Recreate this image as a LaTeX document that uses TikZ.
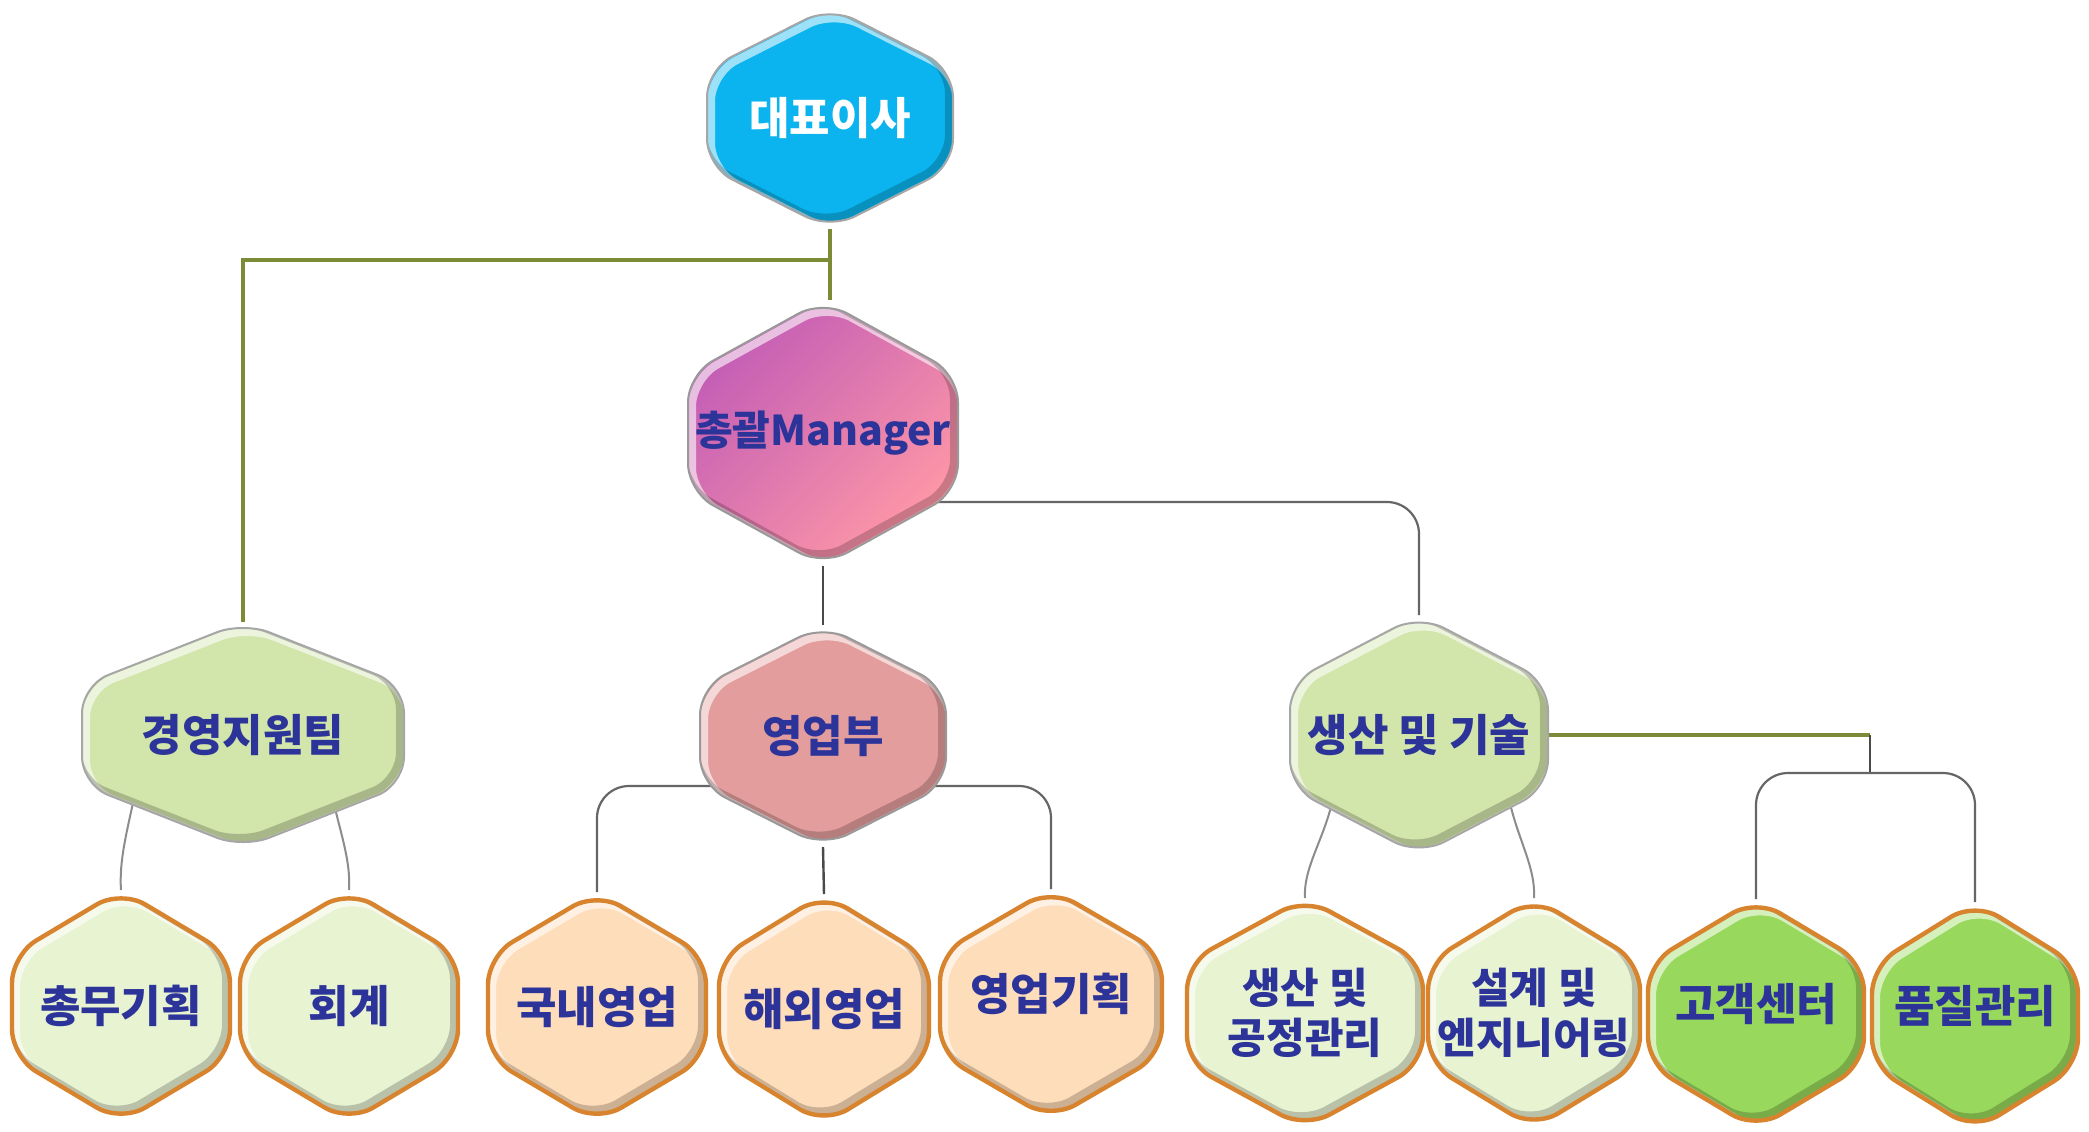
\documentclass[tikz,border=0pt]{standalone}
\usepackage{fontspec}
\setmainfont{Noto Sans CJK KR}
\usetikzlibrary{calc}
\pgfdeclarelayer{bg}
\pgfdeclarelayer{shapes}
\pgfsetlayers{bg,shapes,main}
\definecolor{txtblue}{HTML}{2D3499}
\definecolor{ceoC}{HTML}{0BB4EE}
\definecolor{mgrA}{HTML}{C25CB6}
\definecolor{mgrB}{HTML}{FF98A6}
\definecolor{lgC}{HTML}{D2E5AA}
\definecolor{salesC}{HTML}{E49D9D}
\definecolor{creamC}{HTML}{E8F3D2}
\definecolor{peachC}{HTML}{FEDDBA}
\definecolor{greenC}{HTML}{98D85C}
\definecolor{orangeB}{HTML}{D8842E}
\definecolor{oliveL}{HTML}{7C8C36}
\definecolor{darkL}{HTML}{4A4A4A}
\definecolor{grayL}{HTML}{8C8C8C}

\newcommand\hexpath[3]{($(#1.north)+(#2,#3)$) -- ($(#1.north east)!0.28!(#1.south east)+(#2,#3)$) -- ($(#1.south east)!0.28!(#1.north east)+(#2,#3)$) -- ($(#1.south)+(#2,#3)$) -- ($(#1.south west)!0.28!(#1.north west)+(#2,#3)$) -- ($(#1.north west)!0.28!(#1.south west)+(#2,#3)$) -- cycle}

\newcommand\hexnode[7]{%
  \node[hexlabel, #1 text, minimum width=#5*0.5pt, minimum height=#6*0.5pt] (#2) at (#3,#4) {#7};
  \begin{pgfonlayer}{shapes}
    \path[#1 fill, hexround] \hexpath{#2}{0}{0};
    \begin{scope}
      \clip[hexround] \hexpath{#2}{0}{0};
      \draw[hexround, white, opacity=.6, line width=4pt] \hexpath{#2}{4}{4};
      \draw[hexround, black, opacity=.2, line width=4pt] \hexpath{#2}{-4}{-4};
    \end{scope}
    \draw[#1 line, hexround] \hexpath{#2}{0}{0};
  \end{pgfonlayer}}
\newcommand\liftlabel[1]{\raisebox{5pt}[\height][\depth]{#1}}

\tikzset{
  hexround/.style={rounded corners=14pt},
  hexlabel/.style={inner sep=0pt, outer sep=0pt, align=center,
    font=\fontsize{22}{25}\selectfont\bfseries, text=txtblue},
  ceo text/.style={text=white},
  ceo fill/.style={fill=ceoC},
  ceo line/.style={draw=black!35, line width=1pt},
  mgr text/.style={font=\fontsize{20.5}{25}\selectfont\bfseries},
  mgr fill/.style={top color=mgrA, bottom color=mgrB, shading angle=45},
  mgr line/.style={draw=black!40, line width=1pt},
  lg text/.style={},
  lg fill/.style={fill=lgC},
  lg line/.style={draw=black!35, line width=1pt},
  sales text/.style={},
  sales fill/.style={fill=salesC},
  sales line/.style={draw=black!40, line width=1pt},
  cream text/.style={},
  cream fill/.style={fill=creamC},
  cream line/.style={draw=orangeB, line width=2.2pt},
  creamtwo text/.style={font=\fontsize{21}{25}\selectfont\bfseries},
  creamtwo fill/.style={fill=creamC},
  creamtwo line/.style={draw=orangeB, line width=2.2pt},
  peach text/.style={},
  peach fill/.style={fill=peachC},
  peach line/.style={draw=orangeB, line width=2.2pt},
  green text/.style={},
  green fill/.style={fill=greenC},
  green line/.style={draw=orangeB, line width=2.2pt},
  oliveline/.style={draw=oliveL, line width=1.6pt},
  darkline/.style={draw=darkL, line width=1.2pt},
  grayline/.style={draw=grayL, line width=1pt},
  midline/.style={draw=black!60, line width=1.1pt, rounded corners=16pt},
}

\begin{document}
\begin{tikzpicture}[x=0.5pt, y=-0.5pt]
\useasboundingbox (0,0) rectangle (2089,1131);
\begin{pgfonlayer}{bg}
  \fill[white] (0,0) rectangle (2089,1131);
\end{pgfonlayer}

\hexnode{ceo}{ceo}{830}{118}{246}{222}{대표이사}
\hexnode{mgr}{mgr}{823}{433}{270}{266}{총괄Manager}
\hexnode{lg}{ops}{243}{735}{322}{226}{경영지원팀}
\hexnode{sales}{sales}{823}{736}{246}{222}{영업부}
\hexnode{lg}{tech}{1419}{735}{258}{240}{생산 및 기술}

\hexnode{cream}{b1}{121}{1006}{218}{232}{총무기획}
\hexnode{cream}{b2}{349}{1006}{218}{232}{회계}
\hexnode{peach}{b3}{597}{1007}{218}{230}{국내영업}
\hexnode{peach}{b4}{824}{1009}{210}{230}{해외영업}
\hexnode{peach}{b5}{1051}{1004}{222}{230}{\liftlabel{영업기획}}
\hexnode{creamtwo}{b6}{1305}{1013}{236}{230}{생산 및\\공정관리}
\hexnode{creamtwo}{b7}{1534}{1013}{212}{230}{설계 및\\엔지니어링}
\hexnode{green}{b8}{1756}{1014}{216}{230}{\liftlabel{고객센터}}
\hexnode{green}{b9}{1975}{1016}{206}{228}{\liftlabel{품질관리}}

\begin{pgfonlayer}{bg}
  \coordinate (jTop) at (830,260);
  \coordinate (jR) at (1870,735);
  \coordinate (jR2) at (1870,773);
  % top level
  \draw[oliveline] (ceo.south) -- (ceo.south |- mgr.north);
  \draw[oliveline] (jTop) -| (ops.north);
  \draw[darkline] (mgr.south) -- (sales.north);
  \draw[midline] ($(mgr.center)+(0,69)$) -| (tech.north);
  % 경영지원팀
  \draw[grayline] ($(ops.south)!0.67!(ops.south west)+(0,-55)$) .. controls +(-8,38) and +(-2,-30) .. (b1.north);
  \draw[grayline] ($(ops.south)!0.55!(ops.south east)+(0,-55)$) .. controls +(8,38) and +(2,-30) .. (b2.north);
  % 영업부
  \draw[midline] ($(sales.center)+(0,50)$) -| (b3.north);
  \draw[midline] ($(sales.center)+(0,50)$) -| (b5.north);
  \draw[darkline] (sales.south) -- (b4.north);
  % 생산 및 기술
  \draw[grayline] ($(tech.south)!0.67!(tech.south west)+(0,-55)$) .. controls +(-8,38) and +(-2,-30) .. (b6.north);
  \draw[grayline] ($(tech.south)!0.7!(tech.south east)+(0,-55)$) .. controls +(8,38) and +(2,-30) .. (b7.north);
  \draw[oliveline] (tech.east) -- (jR);
  \draw[darkline] (jR) -- (jR2);
  \draw[midline] (jR2) -| (b8.north);
  \draw[midline] (jR2) -| (b9.north);
\end{pgfonlayer}
\end{tikzpicture}
\end{document}
